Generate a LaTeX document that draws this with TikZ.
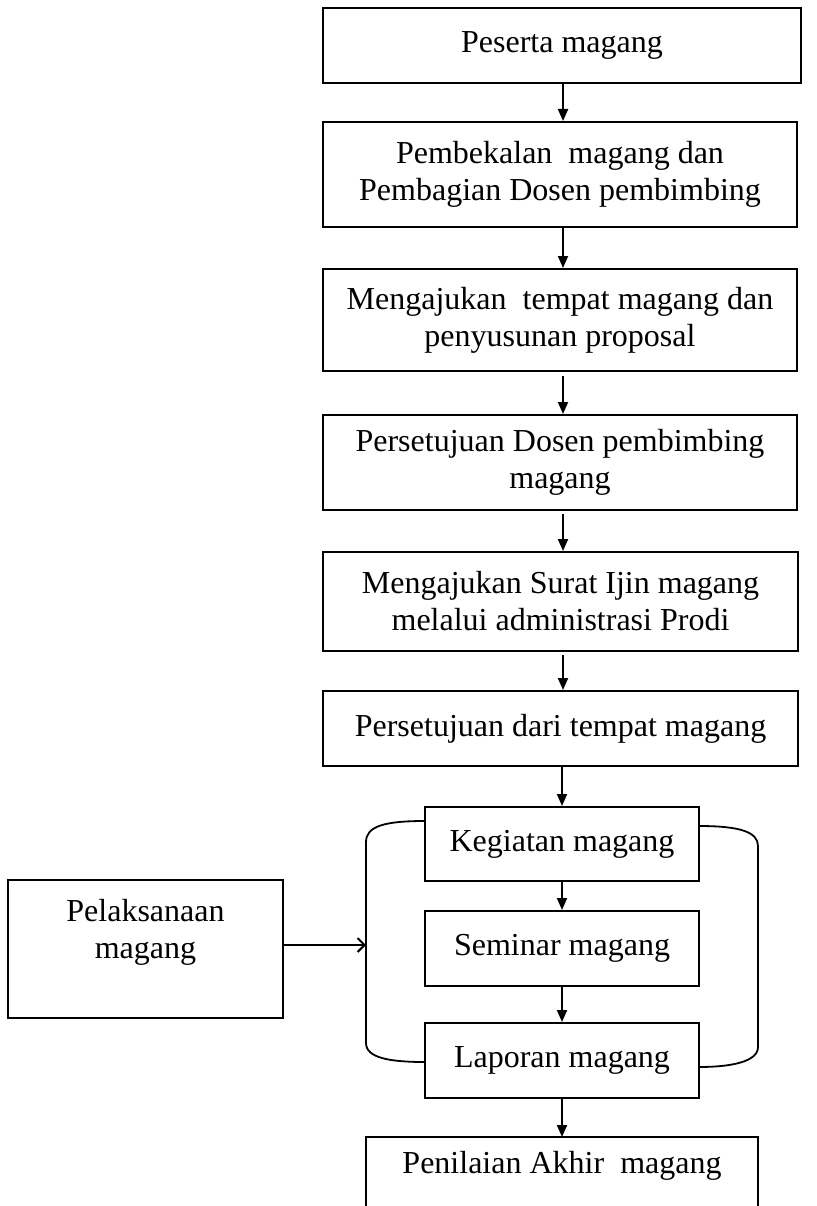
\documentclass[tikz,border=0pt]{standalone}
\usepackage{fontspec}
\setmainfont{Liberation Serif}
\usetikzlibrary{arrows.meta}
\begin{document}
\begin{tikzpicture}[x=1pt,y=-1pt,line width=2pt,
  box/.style={draw, align=center, inner sep=0pt, font=\fontsize{32}{37}\selectfont},
  txt/.style={align=center, inner sep=0pt, font=\fontsize{32}{37}\selectfont},
  arr/.style={-{Triangle[width=10pt,length=12pt]}},
  barb/.style={-{Straight Barb[length=7pt,width=14pt]}},
  bracket/.style={line width=1.8pt}]
\useasboundingbox (0,0) rectangle (816,1206);
% main column
\node[box, minimum width=478pt, minimum height=75pt]  (b1) at (562,45.5)  {Peserta magang};
\node[box, minimum width=474pt, minimum height=105pt] (b2) at (560,174.5) {Pembekalan\enspace magang dan\\Pembagian Dosen pembimbing};
\node[box, minimum width=474pt, minimum height=102pt] (b3) at (560,320)   {Mengajukan\enspace tempat magang dan\\penyusunan proposal};
\node[box, minimum width=474pt, minimum height=95pt]  (b4) at (560,462.5) {Persetujuan Dosen pembimbing\\magang};
\node[box, minimum width=475pt, minimum height=99pt]  (b5) at (560.5,601.5) {Mengajukan Surat Ijin magang\\melalui administrasi Prodi};
\node[box, minimum width=475pt, minimum height=75pt]  (b6) at (560.5,728.5) {Persetujuan dari tempat magang};
% inner group
\node[box, minimum width=274pt, minimum height=74pt] (k1) at (562,844)    {Kegiatan magang};
\node[box, minimum width=274pt, minimum height=75pt] (k2) at (562,948.5)  {Seminar magang};
\node[box, minimum width=274pt, minimum height=75pt] (k3) at (562,1060.5) {Laporan magang};
% final box (cut off at the bottom)
\node[txt] (pen) at (562,1166) {Penilaian Akhir\enspace magang};
\coordinate (pentop) at (562,1137);
\draw (366,1215) -- (366,1137) -- (758,1137) -- (758,1215);
% left box
\node[draw, minimum width=275pt, minimum height=138pt, inner sep=0pt] (pel) at (145.5,949) {};
\node[txt] (peltxt) at (145.5,932) {Pelaksanaan\\magang};
% brackets
\draw[bracket] (425,821) .. controls (385,821) and (366,826) .. (366,842) -- (366,1043)
  .. controls (366,1058) and (390,1062) .. (425,1062);
\draw[bracket] (699,826) .. controls (740,826) and (758,832) .. (758,846) -- (758,1047)
  .. controls (758,1062) and (730,1067) .. (699,1067);
\coordinate (brL) at (366,945);
% arrows
\draw[arr] (b1.south -| 563,0) -- (b2.north -| 563,0);
\draw[arr] (b2.south -| 563,0) -- (b3.north -| 563,0);
\draw[arr] (b3.south -| 563,0) ++(0,4) -- (b4.north -| 563,0);
\draw[arr] (b4.south -| 563,0) ++(0,3) -- (b5.north -| 563,0);
\draw[arr] (b5.south -| 563,0) ++(0,3) -- (b6.north -| 563,0);
\draw[arr] (b6.south -| 562,0) -- (k1.north -| 562,0);
\draw[arr] (k1.south) -- (k2.north);
\draw[arr] (k2.south) -- (k3.north);
\draw[arr] (k3.south) -- (pentop);
\draw[barb] (pel.east |- brL) -- (brL);
\end{tikzpicture}
\end{document}
